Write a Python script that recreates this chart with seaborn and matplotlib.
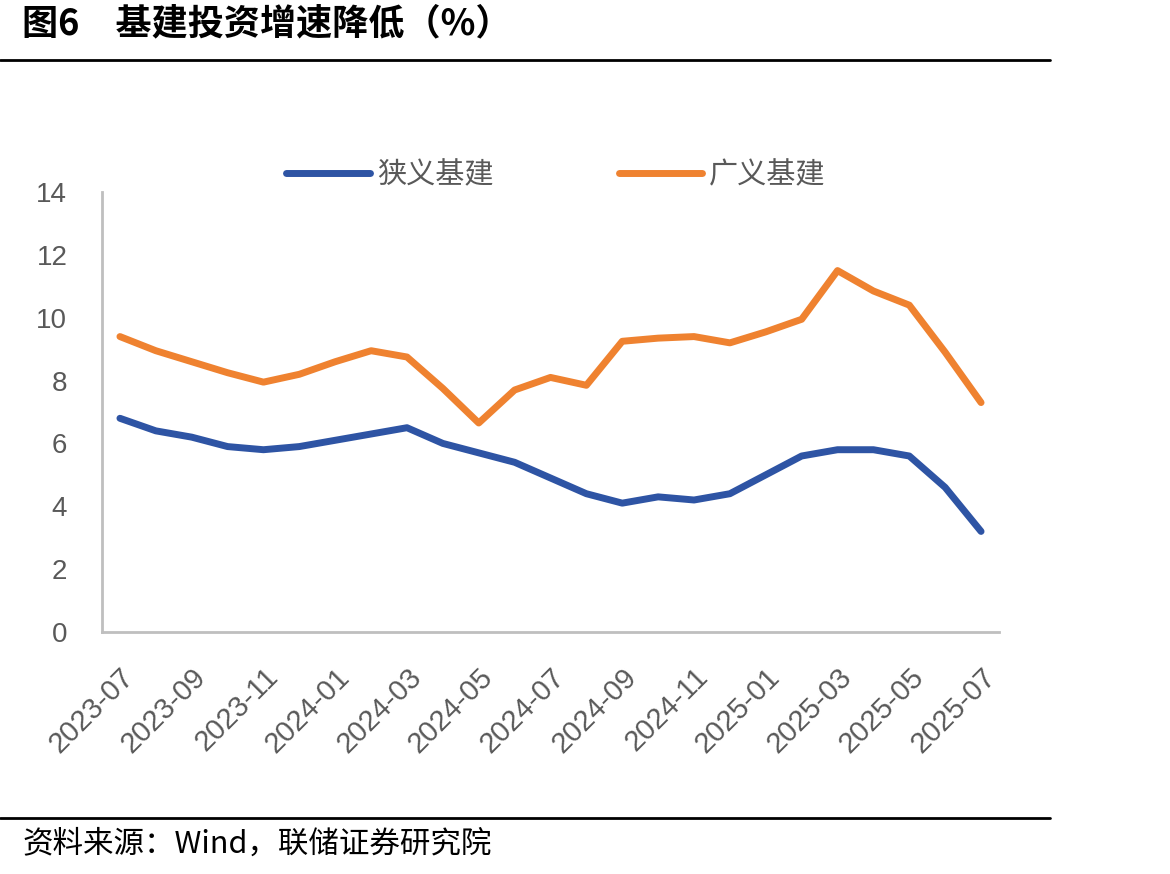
import matplotlib
matplotlib.use("Agg")
import matplotlib.pyplot as plt
import seaborn as sns
import pandas as pd
import numpy as np
from matplotlib.lines import Line2D

months = ["2023-07", "2023-08", "2023-09", "2023-10", "2023-11", "2023-12",
          "2024-01", "2024-02", "2024-03", "2024-04", "2024-05", "2024-06",
          "2024-07", "2024-08", "2024-09", "2024-10", "2024-11", "2024-12",
          "2025-01", "2025-02", "2025-03", "2025-04", "2025-05", "2025-06",
          "2025-07"]
narrow = [6.8, 6.4, 6.2, 5.9, 5.8, 5.9, 6.1, 6.3, 6.5, 6.0, 5.7, 5.4,
          4.9, 4.4, 4.1, 4.3, 4.2, 4.4, 5.0, 5.6, 5.8, 5.8, 5.6, 4.6, 3.2]
broad = [9.4, 8.95, 8.6, 8.25, 7.95, 8.2, 8.6, 8.95, 8.75, 7.75, 6.65, 7.7,
         8.1, 7.85, 9.25, 9.35, 9.4, 9.2, 9.55, 9.95, 11.5, 10.85, 10.4, 8.9, 7.3]
series_names = ["狭义基建", "广义基建"]
colors = ["#2E54A4", "#EF8230"]
y_ticks = [0, 2, 4, 6, 8, 10, 12, 14]

sns.set_theme(style="white")
plt.rcParams['font.family'] = ['Liberation Sans', 'Noto Sans CJK SC', 'DejaVu Sans']

df = pd.DataFrame({
    "idx": list(range(len(months))) * 2,
    "value": narrow + broad,
    "series": [series_names[0]] * len(months) + [series_names[1]] * len(months),
})

fig = plt.figure(figsize=(11.7, 8.74), dpi=100)
ax = fig.add_axes([102 / 1170, 1 - 632 / 874, (999 - 102) / 1170, (632 - 192) / 874])

sns.lineplot(data=df, x="idx", y="value", hue="series", palette=colors,
             linewidth=5, ax=ax, legend=False, solid_capstyle="round")

gray = "#BFBFBF"
txtgray = "#595959"
ax.set_xlim(-0.5, len(months) - 0.5)
ax.set_ylim(0, 14)
ax.set_yticks(y_ticks)
ax.set_yticklabels([str(v) for v in y_ticks], fontsize=20, color=txtgray)
ax.set_xticks(range(0, len(months), 2))
ax.set_xticklabels(months[::2], rotation=45, ha="right", rotation_mode="anchor",
                   fontsize=21, color=txtgray)
ax.set_xticks(np.arange(-0.5, len(months) - 0.5, 2), minor=True)
ax.tick_params(axis="x", which="major", length=0, pad=22)
ax.tick_params(axis="x", which="minor", length=7, width=2, color=gray, direction="in")
ax.tick_params(axis="y", which="major", length=10, width=2, color=gray, direction="out", pad=15)
ax.set_xlabel("")
ax.set_ylabel("")
for side in ["top", "right"]:
    ax.spines[side].set_visible(False)
for side in ["left", "bottom"]:
    ax.spines[side].set_color(gray)
    ax.spines[side].set_linewidth(2)

handles = [Line2D([0], [0], color=c, lw=5, solid_capstyle="round") for c in colors]
fig.legend(handles, series_names, loc="center", bbox_to_anchor=(556 / 1170, 1 - 175 / 874),
           ncol=2, frameon=False, handlelength=2.85, handletextpad=0.25, columnspacing=4.3,
           prop={"family": ["Noto Sans CJK SC"], "size": 21}, labelcolor=txtgray)

fig.text(22 / 1170, 1 - 24 / 874, "图6\u3000基建投资增速降低（%）", fontsize=26, fontweight="bold",
         color="black", ha="left", va="center", family=["Noto Sans CJK SC", "DejaVu Sans"])
fig.add_artist(Line2D([0, 1050 / 1170], [1 - 60 / 874, 1 - 60 / 874], color="black", lw=2))
fig.add_artist(Line2D([0, 1050 / 1170], [1 - 818 / 874, 1 - 818 / 874], color="black", lw=2))
fig.text(22 / 1170, 1 - 844 / 874, "资料来源：Wind，联储证券研究院", fontsize=22,
         color="black", ha="left", va="center", family=["Noto Sans CJK SC", "DejaVu Sans"])

fig.savefig("out.png", dpi=100)
